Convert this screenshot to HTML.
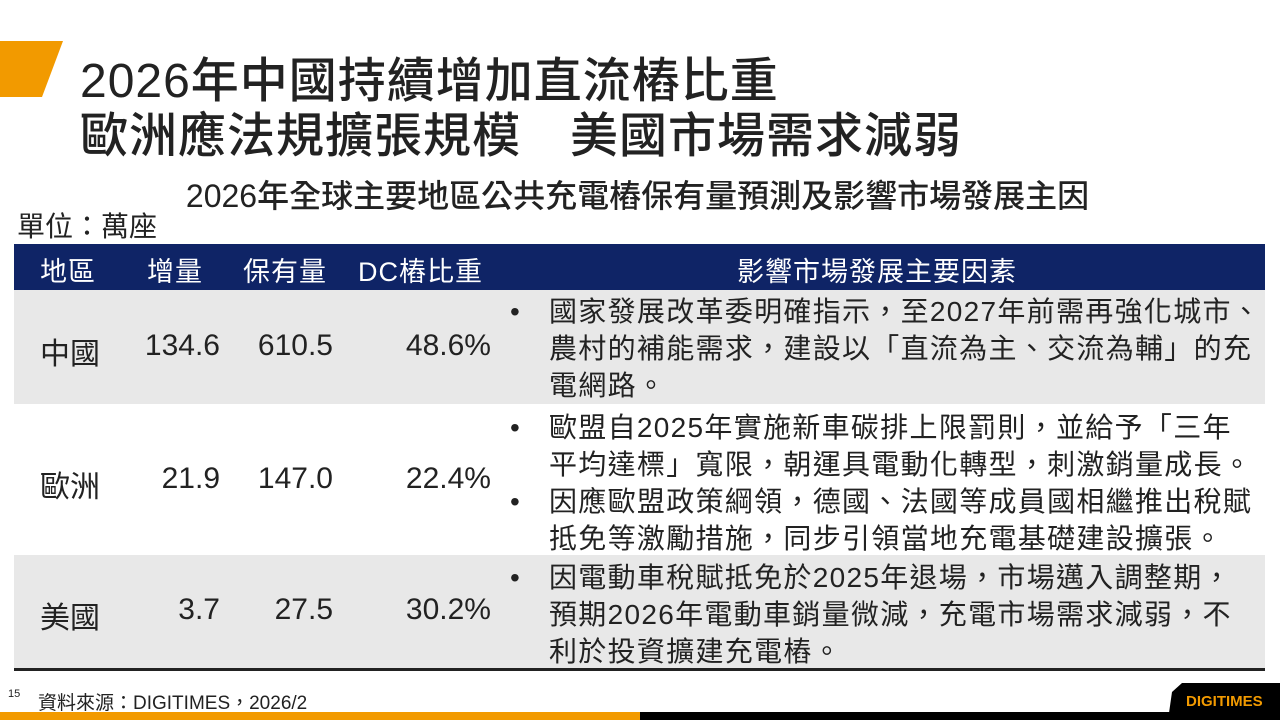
<!DOCTYPE html>
<html><head><meta charset="utf-8"><style>
*{margin:0;padding:0;box-sizing:border-box}
body{width:1280px;height:720px;position:relative;overflow:hidden;background:#fff;font-family:"Liberation Sans","Noto Sans CJK TC",sans-serif;color:#222}
.a{position:absolute;white-space:nowrap}
.t{font-size:48px;font-weight:500;color:#222;left:80px;letter-spacing:1px}
.h{color:#fff;font-size:27px;top:250px;letter-spacing:1px}
.c{font-size:30px;color:#222}
.r{text-align:right}
.p{font-size:28px;line-height:37px;color:#222;letter-spacing:1.3px}
</style></head><body>
<svg class="a" style="left:0;top:0" width="1280" height="720">
<polygon points="0,41 63,41 42,97 0,97" fill="#f29a00"/>
<rect x="14" y="244" width="1251" height="46" fill="#0f2466"/>
<rect x="14" y="290" width="1251" height="114" fill="#e8e8e8"/>
<rect x="14" y="555" width="1251" height="113" fill="#e8e8e8"/>
<rect x="14" y="668" width="1251" height="3" fill="#222"/>
<rect x="0" y="712" width="640" height="8" fill="#f29a00"/>
<rect x="640" y="712" width="640" height="8" fill="#000"/>
<polygon points="1182,683 1280,683 1280,720 1168,720 1172,692" fill="#000"/>
<text x="1186" y="706" fill="#f29a00" font-family="Liberation Sans" font-weight="bold" font-size="15">DIGITIMES</text>
</svg>
<div class="a t" style="top:41px">2026年中國持續增加直流樁比重</div>
<div class="a t" style="top:96px">歐洲應法規擴張規模　美國市場需求減弱</div>
<div class="a" style="left:0;width:1275px;text-align:center;top:171px;font-size:32px;font-weight:500">2026年全球主要地區公共充電樁保有量預測及影響市場發展主因</div>
<div class="a" style="left:17px;top:205px;font-size:28px">單位：萬座</div>
<div class="a h" style="left:40px">地區</div>
<div class="a h" style="left:147px">增量</div>
<div class="a h" style="left:243px">保有量</div>
<div class="a h" style="left:358px">DC樁比重</div>
<div class="a h" style="left:737px">影響市場發展主要因素</div>

<div class="a c" style="left:40px;top:329px">中國</div>
<div class="a c r" style="right:1060px;top:329px">134.6</div>
<div class="a c r" style="right:947px;top:329px">610.5</div>
<div class="a c r" style="right:789px;top:329px">48.6%</div>
<div class="a c" style="left:40px;top:462px">歐洲</div>
<div class="a c r" style="right:1060px;top:462px">21.9</div>
<div class="a c r" style="right:947px;top:462px">147.0</div>
<div class="a c r" style="right:789px;top:462px">22.4%</div>
<div class="a c" style="left:40px;top:593px">美國</div>
<div class="a c r" style="right:1060px;top:593px">3.7</div>
<div class="a c r" style="right:947px;top:593px">27.5</div>
<div class="a c r" style="right:789px;top:593px">30.2%</div>

<div class="a p" style="left:510px;top:293px">•</div>
<div class="a p" style="left:549px;top:293px">國家發展改革委明確指示，至2027年前需再強化城市、<br>農村的補能需求，建設以「直流為主、交流為輔」的充<br>電網路。</div>
<div class="a p" style="left:510px;top:409px">•</div>
<div class="a p" style="left:549px;top:409px">歐盟自2025年實施新車碳排上限罰則，並給予「三年<br>平均達標」寬限，朝運具電動化轉型，刺激銷量成長。</div>
<div class="a p" style="left:510px;top:483px">•</div>
<div class="a p" style="left:549px;top:483px">因應歐盟政策綱領，德國、法國等成員國相繼推出稅賦<br>抵免等激勵措施，同步引領當地充電基礎建設擴張。</div>
<div class="a p" style="left:510px;top:559px">•</div>
<div class="a p" style="left:549px;top:559px">因電動車稅賦抵免於2025年退場，市場邁入調整期，<br>預期2026年電動車銷量微減，充電市場需求減弱，不<br>利於投資擴建充電樁。</div>

<div class="a" style="left:8px;top:688px;font-size:11px">15</div>
<div class="a" style="left:38px;top:688px;font-size:19px">資料來源：DIGITIMES，2026/2</div>
</body></html>
